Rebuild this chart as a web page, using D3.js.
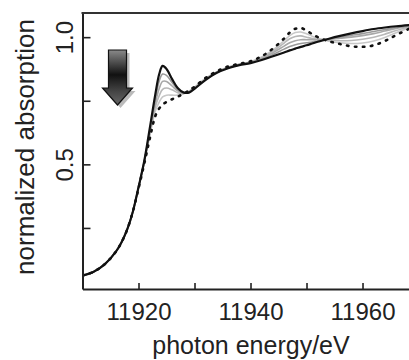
<!DOCTYPE html>
<html>
<head>
<meta charset="utf-8">
<script src="https://cdn.jsdelivr.net/npm/d3@7"></script>
<style>
  html, body { margin: 0; padding: 0; background: #fff; }
  svg { display: block; font-family: "Liberation Sans", Arial, Helvetica, sans-serif; }
</style>
</head>
<body>
<svg id="chart" width="409" height="360"></svg>
<script>
// ---- data ----
const energy = [11910, 11912, 11914, 11916, 11917, 11918, 11919, 11920, 11921, 11922, 11923, 11923.7, 11924.3, 11925, 11926, 11927, 11928, 11929, 11930, 11932, 11934, 11936, 11938, 11940, 11942, 11944, 11946, 11947, 11948, 11949, 11950, 11951, 11952, 11954, 11956, 11958, 11960, 11962, 11964, 11966, 11968.5];
const seriesInitial = [0.063, 0.078, 0.108, 0.158, 0.195, 0.245, 0.315, 0.41, 0.51, 0.64, 0.775, 0.855, 0.887, 0.875, 0.835, 0.80, 0.783, 0.782, 0.797, 0.832, 0.86, 0.878, 0.89, 0.898, 0.91, 0.925, 0.94, 0.948, 0.955, 0.962, 0.968, 0.975, 0.982, 0.994, 1.005, 1.015, 1.024, 1.032, 1.038, 1.043, 1.048];
const seriesGray1 = [0.063, 0.078, 0.108, 0.158, 0.195, 0.245, 0.315, 0.41, 0.51, 0.632, 0.755, 0.828, 0.855, 0.85, 0.822, 0.795, 0.782, 0.783, 0.798, 0.833, 0.861, 0.879, 0.891, 0.9, 0.913, 0.932, 0.953, 0.963, 0.97, 0.975, 0.978, 0.981, 0.985, 0.993, 1.0, 1.007, 1.014, 1.022, 1.03, 1.038, 1.046];
const seriesGray2 = [0.063, 0.078, 0.108, 0.158, 0.195, 0.245, 0.315, 0.41, 0.508, 0.625, 0.74, 0.798, 0.826, 0.826, 0.808, 0.789, 0.781, 0.784, 0.8, 0.835, 0.862, 0.88, 0.892, 0.901, 0.916, 0.939, 0.965, 0.978, 0.986, 0.99, 0.99, 0.99, 0.99, 0.992, 0.996, 1.0, 1.006, 1.014, 1.024, 1.034, 1.044];
const seriesGray3 = [0.063, 0.078, 0.108, 0.158, 0.195, 0.245, 0.315, 0.408, 0.506, 0.618, 0.725, 0.77, 0.795, 0.8, 0.793, 0.782, 0.779, 0.786, 0.802, 0.837, 0.863, 0.882, 0.893, 0.902, 0.919, 0.945, 0.977, 0.994, 1.003, 1.005, 1.0, 0.995, 0.992, 0.988, 0.986, 0.987, 0.992, 1.0, 1.012, 1.026, 1.041];
const seriesGray4 = [0.063, 0.078, 0.108, 0.158, 0.195, 0.245, 0.315, 0.407, 0.503, 0.61, 0.71, 0.745, 0.765, 0.772, 0.772, 0.772, 0.777, 0.788, 0.803, 0.839, 0.864, 0.883, 0.894, 0.903, 0.922, 0.95, 0.986, 1.006, 1.018, 1.02, 1.013, 1.004, 0.996, 0.984, 0.978, 0.975, 0.977, 0.985, 0.999, 1.017, 1.038];
const seriesFinal = [0.063, 0.078, 0.108, 0.158, 0.195, 0.245, 0.315, 0.405, 0.5, 0.6, 0.69, 0.72, 0.735, 0.745, 0.756, 0.766, 0.777, 0.79, 0.805, 0.84, 0.866, 0.885, 0.895, 0.905, 0.925, 0.955, 0.995, 1.018, 1.033, 1.036, 1.026, 1.012, 1.0, 0.984, 0.973, 0.964, 0.962, 0.968, 0.985, 1.008, 1.035];

const xTicks = [11920, 11930, 11940, 11950, 11960];
const xTickLabels = ["11920", "", "11940", "", "11960"];
const yTicks = [0.25, 0.5, 0.75, 1.0];
const yTickLabels = ["", "0.5", "", "1.0"];
const xTitle = "photon energy/eV";
const yTitle = "normalized absorption";

// ---- layout ----
const svg = d3.select("#chart");
const mLeft = 82.5, mRight = 409, mTop = 13, mBottom = 289;
const x = d3.scaleLinear().domain([11910, 11968.3]).range([mLeft, mRight]);
const y = d3.scaleLinear().domain([0.01, 1.095]).range([mBottom, mTop]);

const defs = svg.append("defs");
defs.append("clipPath").attr("id", "plotclip")
  .append("rect").attr("x", mLeft).attr("y", mTop).attr("width", mRight - mLeft).attr("height", mBottom - mTop);

const line = d3.line()
  .x((d, i) => x(energy[i]))
  .y(d => y(d))
  .curve(d3.curveCatmullRom.alpha(0.5));

const plot = svg.append("g").attr("clip-path", "url(#plotclip)");

const grays = [
  { data: seriesGray4, color: "#c8c8c8" },
  { data: seriesGray3, color: "#b8b8b8" },
  { data: seriesGray2, color: "#a8a8a8" },
  { data: seriesGray1, color: "#9a9a9a" }
];
grays.forEach(g => {
  plot.append("path").datum(g.data).attr("d", line)
    .attr("fill", "none").attr("stroke", g.color).attr("stroke-width", 1.6);
});
plot.append("path").datum(seriesInitial).attr("d", line)
  .attr("fill", "none").attr("stroke", "#111").attr("stroke-width", 2.2);
plot.append("path").datum(seriesFinal).attr("d", line)
  .attr("fill", "none").attr("stroke", "#111").attr("stroke-width", 2.6)
  .attr("stroke-linecap", "round").attr("stroke-dasharray", "1.5,6.5");

// ---- axes ----
const yAxis = d3.axisLeft(y).tickValues(yTicks)
  .tickFormat((d, i) => yTickLabels[i])
  .tickSizeInner(-8).tickSizeOuter(0);
const gy = svg.append("g").attr("transform", `translate(${mLeft},0)`).call(yAxis);
gy.select(".domain").attr("stroke", "#222").attr("stroke-width", 2);
gy.selectAll(".tick line").attr("stroke", "#222").attr("stroke-width", 1.6);
gy.selectAll(".tick text")
  .attr("x", 0).attr("y", 0).attr("dy", 0)
  .attr("text-anchor", "middle")
  .attr("transform", "translate(-10,0) rotate(-90)")
  .attr("fill", "#222").style("font-size", "24px");

const xAxis = d3.axisBottom(x).tickValues(xTicks)
  .tickFormat((d, i) => xTickLabels[i])
  .tickSizeInner(-6).tickSizeOuter(0);
const gx = svg.append("g").attr("transform", `translate(0,${mBottom})`).call(xAxis);
gx.select(".domain").attr("stroke", "#222").attr("stroke-width", 2);
gx.selectAll(".tick line").attr("stroke", "#222").attr("stroke-width", 1.6);
gx.selectAll(".tick text")
  .attr("y", 31).attr("dy", 0)
  .attr("fill", "#222").style("font-size", "24px");

// top frame line
svg.append("line").attr("x1", mLeft - 1).attr("x2", mRight).attr("y1", mTop).attr("y2", mTop)
  .attr("stroke", "#333").attr("stroke-width", 2);

// titles
svg.append("text").attr("x", 251).attr("y", 354).attr("text-anchor", "middle")
  .attr("fill", "#222").style("font-size", "25px").text(xTitle);
svg.append("text").attr("transform", "translate(34,147) rotate(-90)").attr("text-anchor", "middle")
  .attr("fill", "#222").style("font-size", "26px").text(yTitle);

// ---- arrow ----
const grad = defs.append("linearGradient").attr("id", "arrowgrad")
  .attr("x1", 0).attr("y1", 0).attr("x2", 0).attr("y2", 1);
grad.append("stop").attr("offset", "0%").attr("stop-color", "#8a8a8a");
grad.append("stop").attr("offset", "45%").attr("stop-color", "#111");
grad.append("stop").attr("offset", "75%").attr("stop-color", "#444");
grad.append("stop").attr("offset", "100%").attr("stop-color", "#666");
const ax = 117.5, ay = 50;
const arrowPts = [[-9, 0], [9, 0], [9, 38], [15, 38], [0, 55], [-15, 38], [-9, 38]];
const arrowPath = d3.line()(arrowPts) + "Z";
svg.append("path").attr("d", arrowPath).attr("transform", `translate(${ax + 3},${ay + 3})`)
  .attr("fill", "#aaa").attr("opacity", 0.8);
svg.append("path").attr("d", arrowPath).attr("transform", `translate(${ax},${ay})`)
  .attr("fill", "url(#arrowgrad)").attr("stroke", "#111").attr("stroke-width", 1.2);
</script>
</body>
</html>
